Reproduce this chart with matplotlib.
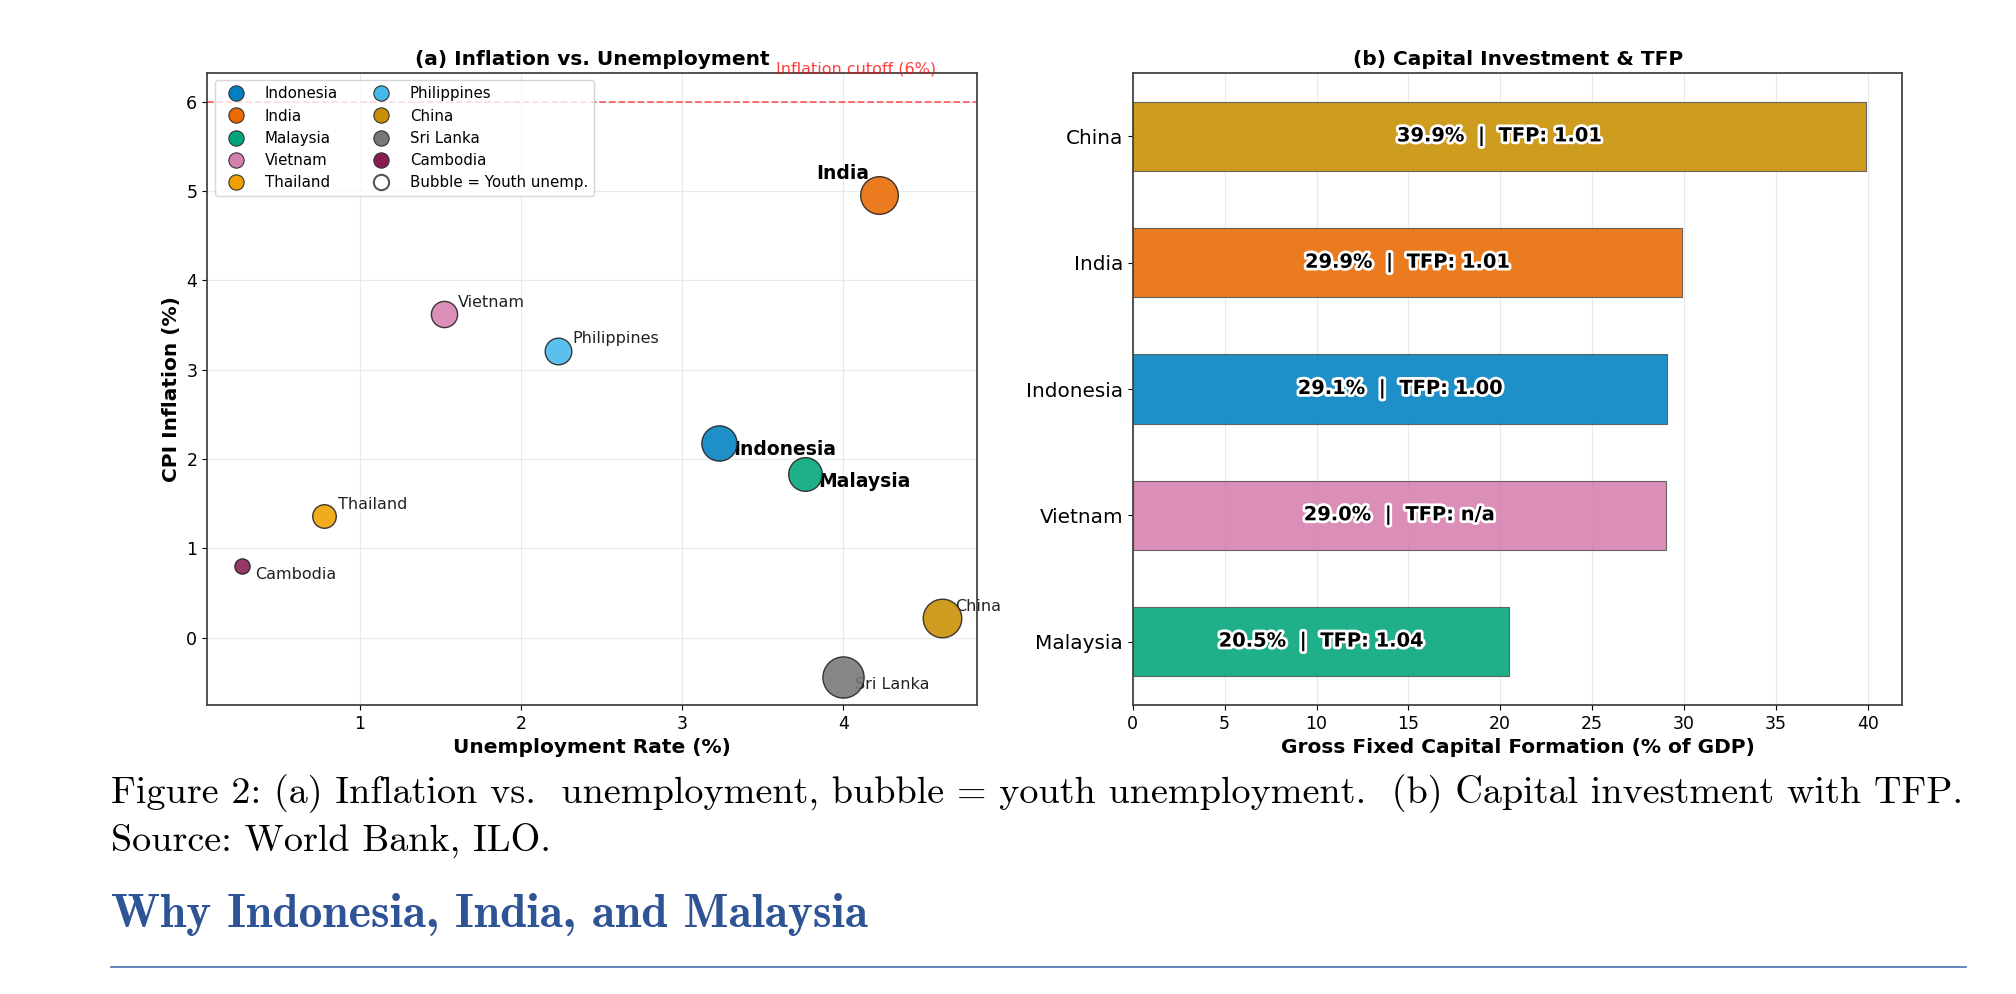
import matplotlib
matplotlib.use('Agg')
import matplotlib.pyplot as plt
import matplotlib.patheffects as pe
from matplotlib.lines import Line2D
import numpy as np

# panel (a): inflation vs unemployment, bubble = youth unemployment
countries = ['Indonesia', 'India', 'Malaysia', 'Vietnam', 'Thailand',
             'Philippines', 'China', 'Sri Lanka', 'Cambodia']
unemp = [3.23, 4.22, 3.76, 1.52, 0.78, 2.23, 4.61, 4.00, 0.27]
cpi = [2.18, 4.95, 1.83, 3.62, 1.36, 3.21, 0.22, -0.44, 0.80]
youth_unemp = [16.1, 18.4, 14.7, 8.9, 7.2, 9.2, 19.3, 22.0, 3.0]
focus = ['Indonesia', 'India', 'Malaysia']

colors_map = {
    'Indonesia': '#0080C0', 'India': '#E86A00', 'Malaysia': '#00A57A',
    'Vietnam': '#D57FAE', 'Thailand': '#F0A000', 'Philippines': '#45B8EC',
    'China': '#C89000', 'Sri Lanka': '#777777', 'Cambodia': '#8A1C52',
}

# panel (b): gross fixed capital formation and TFP
gfcf_countries = ['Malaysia', 'Vietnam', 'Indonesia', 'India', 'China']
gfcf = [20.5, 29.0, 29.1, 29.9, 39.9]
tfp = ['1.04', 'n/a', '1.00', '1.01', '1.01']

cutoff = 6

caption_1 = ('Figure 2: (a) Inflation vs.  unemployment, bubble = youth unemployment.  '
             '(b) Capital investment with TFP.')
caption_2 = 'Source: World Bank, ILO.'
heading = 'Why Indonesia, India, and Malaysia'

fig = plt.figure(figsize=(20.16, 9.94), dpi=100)
ax1 = fig.add_axes([0.1027, 0.2907, 0.3819, 0.6359])
ax2 = fig.add_axes([0.5619, 0.2907, 0.3818, 0.6359])

# offsets (points) for the bubble labels
offsets = {'India': (-6.5, 16, 'right'), 'Indonesia': (10, -5, 'left'),
           'Malaysia': (10, -5, 'left'), 'Cambodia': (9.4, -5.8, 'left'),
           'Sri Lanka': (8.6, -5.5, 'left')}

for c, x, y, yu in zip(countries, unemp, cpi, youth_unemp):
    ax1.scatter(x, y, s=yu * 40, color=colors_map[c], alpha=0.88,
                edgecolors='#222222', linewidths=1.0, zorder=5)
    dx, dy, ha = offsets.get(c, (10, 8.6, 'left'))
    if c in focus:
        ax1.annotate(c, (x, y), xytext=(dx, dy), textcoords='offset points',
                     ha=ha, va='center', fontsize=13.5, fontweight='bold', zorder=4)
    else:
        ax1.annotate(c, (x, y), xytext=(dx, dy), textcoords='offset points',
                     ha=ha, va='center', fontsize=11.5, color='#222222', zorder=4)

ax1.axhline(cutoff, color='red', linestyle='--', linewidth=1.3, alpha=0.6, zorder=1)
ax1.text(3.58, 6.36, 'Inflation cutoff (6%)', color='red', alpha=0.75,
         fontsize=11.5, va='center', ha='left')

ax1.set_xlim(0.052, 4.83)
ax1.set_ylim(-0.754, 6.32)
ax1.set_xticks([1, 2, 3, 4])
ax1.set_yticks([0, 1, 2, 3, 4, 5, 6])
ax1.grid(True, color='#dddddd', alpha=0.6, linewidth=0.8, zorder=0)
ax1.set_axisbelow(True)
ax1.set_xlabel('Unemployment Rate (%)', fontsize=14.5, fontweight='bold')
ax1.set_ylabel('CPI Inflation (%)', fontsize=14.5, fontweight='bold')
ax1.set_title('(a) Inflation vs. Unemployment', fontsize=14.5, fontweight='bold')
ax1.tick_params(labelsize=12.5)

handles = [Line2D([], [], marker='o', linestyle='', markersize=11,
                  markerfacecolor=colors_map[c], markeredgecolor='#333333',
                  markeredgewidth=0.8, label=c) for c in countries]
handles.append(Line2D([], [], marker='o', linestyle='', markersize=11,
                      markerfacecolor='white', markeredgecolor='#555555',
                      markeredgewidth=1.5, label='Bubble = Youth unemp.'))
ax1.legend(handles=handles, loc='upper left', ncol=2, fontsize=10.8,
           handletextpad=0.95, columnspacing=1.85, labelspacing=0.48)

# panel (b)
ypos = np.arange(len(gfcf_countries))
bar_cols = [colors_map[c] for c in gfcf_countries]
ax2.barh(ypos, gfcf, height=0.55, color=bar_cols, alpha=0.88,
         edgecolor='#555555', linewidth=0.8, zorder=2)
for y, v, t in zip(ypos, gfcf, tfp):
    ax2.text(v / 2, y, f'{v:.1f}%  |  TFP: {t}', ha='center', va='center',
             fontsize=14, fontweight='bold', color='black', zorder=4,
             path_effects=[pe.withStroke(linewidth=4, foreground='white')])
ax2.set_yticks(ypos)
ax2.set_yticklabels(gfcf_countries, fontsize=14.4)
ax2.set_xlim(0, max(gfcf) * 1.05)
ax2.set_xticks(range(0, 45, 5))
ax2.tick_params(axis='x', labelsize=12.5)
ax2.grid(True, axis='x', color='#dddddd', alpha=0.6, linewidth=0.8, zorder=0)
ax2.set_axisbelow(True)
ax2.set_xlabel('Gross Fixed Capital Formation (% of GDP)', fontsize=14.5, fontweight='bold')
ax2.set_title('(b) Capital Investment & TFP', fontsize=14.5, fontweight='bold')

for ax in (ax1, ax2):
    for s in ax.spines.values():
        s.set_color('#444444')
        s.set_linewidth(1.3)

# caption and section heading of the page
fig.text(111 / 2016, 1 - 803 / 994, caption_1, family='cmr10', fontsize=27.5,
         va='baseline', ha='left')
fig.text(111 / 2016, 1 - 852 / 994, caption_2, family='cmr10', fontsize=27.5,
         va='baseline', ha='left')
fig.text(111 / 2016, 1 - 927 / 994, heading, family='cmb10', fontsize=34.2,
         va='baseline', ha='left', color='#2F5496')
fig.add_artist(Line2D([111 / 2016, 1966 / 2016], [1 - 967 / 994, 1 - 967 / 994],
                      color='#4A6FB0', linewidth=1.2))

fig.savefig('out.png', dpi=100)
